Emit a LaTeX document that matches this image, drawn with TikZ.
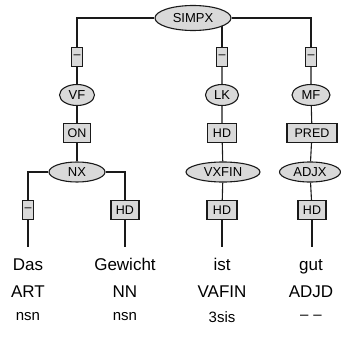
\documentclass[tikz,border=0pt]{standalone}
\usepackage{fontspec}
\setmainfont{Liberation Sans}
\usetikzlibrary{shapes.geometric,backgrounds}
\definecolor{catgray}{HTML}{D9D9D9}
\definecolor{treeline}{HTML}{1A1A1A}

\begin{document}
\begin{tikzpicture}[x=1pt,y=-1pt,
  cat/.style={ellipse,draw=treeline,fill=catgray,line width=1.1pt,inner sep=0pt,minimum height=20pt,font=\fontsize{13}{15}\selectfont},
  edgelab/.style={rectangle,draw=treeline,fill=catgray,line width=1.1pt,inner sep=0pt,minimum height=19pt,font=\fontsize{12.5}{15}\selectfont},
  word/.style={inner xsep=1pt,inner ysep=11pt,text height=12pt,text depth=0pt,font=\fontsize{17}{20}\selectfont},
  tag/.style={inner sep=1pt,font=\fontsize{17}{20}\selectfont},
  morph/.style={inner sep=1pt,font=\fontsize{15}{18}\selectfont},
  branch/.style={draw=treeline,line width=1.1pt}]
\useasboundingbox (0,0) rectangle (340,345);
% categories and edge labels
\node[cat,minimum width=76pt,minimum height=25pt] (simpx) at (193,18) {SIMPX};
\node[edgelab,minimum width=11pt] (e1) at (77,57) {–};
\node[edgelab,minimum width=11pt] (e2) at (222,57) {–};
\node[edgelab,minimum width=11pt] (e3) at (311,57) {–};
\node[cat,minimum width=35pt,minimum height=21pt] (vf) at (77,95) {VF};
\node[cat,minimum width=33pt,minimum height=21pt] (lk) at (222,95) {LK};
\node[cat,minimum width=38pt,minimum height=21pt] (mf) at (311,95) {MF};
\node[edgelab,minimum width=27pt] (on) at (77,133) {ON};
\node[edgelab,minimum width=29pt] (hd1) at (222,133) {HD};
\node[edgelab,minimum width=50pt] (pred) at (312,133) {PRED};
\node[cat,minimum width=56pt] (nx) at (77,172) {NX};
\node[cat,minimum width=74pt] (vxfin) at (223,172) {VXFIN};
\node[cat,minimum width=61pt] (adjx) at (310,172) {ADJX};
\node[edgelab,minimum width=11pt] (e4) at (28,210) {–};
\node[edgelab,minimum width=28pt] (hd2) at (125,210) {HD};
\node[edgelab,minimum width=30pt] (hd3) at (222,210) {HD};
\node[edgelab,minimum width=28pt] (hd4) at (312,210) {HD};
% leaves
\node[word] (das) at (28,264) {Das};
\node[word] (gewicht) at (125,264) {Gewicht};
\node[word] (ist) at (222,264) {ist};
\node[word] (gut) at (311,264) {gut};
\node[tag] (art) at (28,292) {ART};
\node[tag] (nn) at (125,292) {NN};
\node[tag] (vafin) at (222,292) {VAFIN};
\node[tag] (adjd) at (311,292) {ADJD};
\node[morph] (m1) at (28,317) {nsn};
\node[morph] (m2) at (125,317) {nsn};
\node[morph] (m3) at (222,317) {3sis};
\node[morph] (m4) at (311,317) {–\,\,–};
% branches
\begin{scope}[on background layer]
\draw[branch] (simpx) -| (e1);
\draw[branch] (simpx) -| (e3);
\draw[branch] (e2) -- (e2 |- simpx);
\draw[branch] (e1) -- (vf) -- (on) -- (nx);
\draw[branch] (e2) -- (lk) -- (hd1) -- (vxfin) -- (hd3);
\draw[branch] (e3) -- (mf) -- (pred) -- (adjx) -- (hd4);
\draw[branch] (nx) -| (e4);
\draw[branch] (nx) -| (hd2);
\draw[branch] (e4) -- (e4 |- das.north);
\draw[branch] (hd2) -- (hd2 |- gewicht.north);
\draw[branch] (hd3) -- (hd3 |- ist.north);
\draw[branch] (hd4) -- (hd4 |- gut.north);
\end{scope}
\end{tikzpicture}
\end{document}
